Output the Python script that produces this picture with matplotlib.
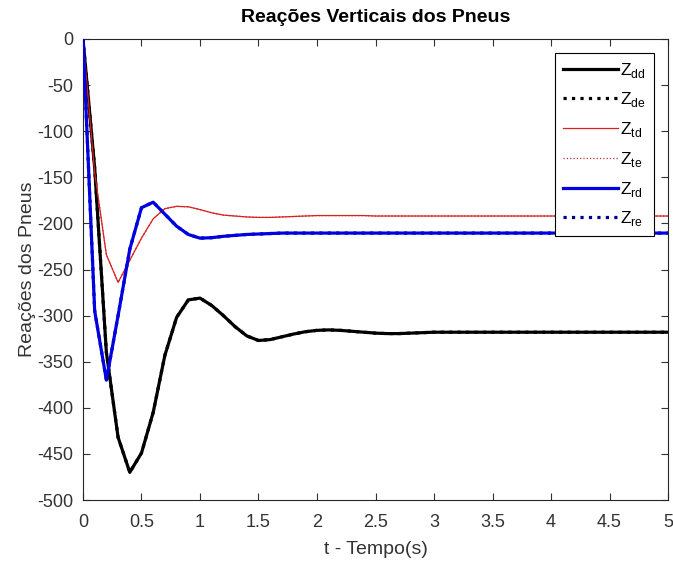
import matplotlib
matplotlib.use("Agg")
import matplotlib.pyplot as plt

plt.rcParams['font.family'] = ['Liberation Sans', 'DejaVu Sans']
plt.rcParams['axes.unicode_minus'] = False

# simulation time (s)
t = [0.0, 0.1, 0.2, 0.3, 0.4, 0.5, 0.6, 0.7, 0.8, 0.9,
     1.0, 1.1, 1.2, 1.3, 1.4, 1.5, 1.6, 1.7, 1.8, 1.9,
     2.0, 2.1, 2.2, 2.3, 2.4, 2.5, 2.6, 2.7, 2.8, 2.9,
     3.0, 3.1, 3.2, 3.3, 3.4, 3.5, 3.6, 3.7, 3.8, 3.9,
     4.0, 4.1, 4.2, 4.3, 4.4, 4.5, 4.6, 4.7, 4.8, 4.9, 5.0]

# front tyres (dianteiro direito / esquerdo)
z_dd = [0, -140, -340, -432, -470, -449, -405, -343, -302, -283,
        -281, -289, -300, -312, -322, -327, -326, -323, -320, -317.5,
        -316, -315.5, -316, -317, -318, -319, -319.5, -319.5, -319, -318.5,
        -318, -318, -318, -318, -318, -318, -318, -318, -318, -318,
        -318, -318, -318, -318, -318, -318, -318, -318, -318, -318, -318]
z_de = list(z_dd)

# rear tyres (traseiro direito / esquerdo)
z_td = [0, -145, -234, -264, -240, -216, -195, -184, -181.5, -182,
        -185, -188.5, -191, -192, -193, -193.5, -193.5, -193, -192.5, -192,
        -191.5, -191.5, -191.5, -191.5, -191.5, -192, -192, -192, -192, -192,
        -192, -192, -192, -192, -192, -192, -192, -192, -192, -192,
        -192, -192, -192, -192, -192, -192, -192, -192, -192, -192, -192]
z_te = list(z_td)

# trailer tyres (reboque direito / esquerdo)
z_rd = [0, -295, -370, -300, -228, -183, -177, -190, -203, -212,
        -216, -215.5, -214, -213, -212, -211.5, -211, -210.5, -210.5, -210.5,
        -210.5, -210.5, -210.5, -210.5, -210.5, -210.5, -210.5, -210.5, -210.5, -210.5,
        -210.5, -210.5, -210.5, -210.5, -210.5, -210.5, -210.5, -210.5, -210.5, -210.5,
        -210.5, -210.5, -210.5, -210.5, -210.5, -210.5, -210.5, -210.5, -210.5, -210.5, -210.5]
z_re = list(z_rd)

labels = ['Z$_\\mathregular{dd}$', 'Z$_\\mathregular{de}$', 'Z$_\\mathregular{td}$',
          'Z$_\\mathregular{te}$', 'Z$_\\mathregular{rd}$', 'Z$_\\mathregular{re}$']

fig = plt.figure(figsize=(6.73, 5.61), dpi=100)
ax = fig.add_axes([0.1233, 0.1087, 0.8693, 0.8218])

# left-side curves coincide with the right-side ones; keep the dotted ones underneath
ax.plot(t, z_dd, color='black', lw=2.3, ls='-', label=labels[0], zorder=3)
ax.plot(t, z_de, color='black', lw=2.3, ls=':', label=labels[1], zorder=2)
ax.plot(t, z_td, color='#dc2020', lw=0.9, ls='-', label=labels[2], zorder=3)
ax.plot(t, z_te, color='#b03030', lw=0.9, ls=':', label=labels[3], zorder=2)
ax.plot(t, z_rd, color='#0000e0', lw=2.3, ls='-', label=labels[4], zorder=3)
ax.plot(t, z_re, color='#00008b', lw=2.3, ls=':', label=labels[5], zorder=2)

ax.set_xlim(0, 5)
ax.set_ylim(-500, 0)
ax.set_xticks([0, 0.5, 1, 1.5, 2, 2.5, 3, 3.5, 4, 4.5, 5])
ax.set_xticklabels(['0', '0.5', '1', '1.5', '2', '2.5', '3', '3.5', '4', '4.5', '5'])
ax.set_yticks(range(-500, 1, 50))

tick_col = '#333333'
ax.tick_params(direction='in', top=True, right=True, length=5, width=0.8,
               labelsize=13, colors=tick_col, labelcolor=tick_col)
ax.tick_params(axis='x', pad=10)
ax.tick_params(axis='y', pad=7)
for s in ax.spines.values():
    s.set_color('#262626')
    s.set_linewidth(0.8)

ax.set_title('Reações Verticais dos Pneus', fontsize=14, fontweight='bold',
             color='black', pad=12)
ax.set_xlabel('t - Tempo(s)', fontsize=14, color=tick_col, labelpad=7)
ax.set_ylabel('Reações dos Pneus', fontsize=14, color=tick_col, labelpad=1)

leg = ax.legend(loc='upper right', bbox_to_anchor=(0.976, 0.970), borderaxespad=0,
                fontsize=12.5, handlelength=3.15, handletextpad=0.15,
                labelspacing=0.62, borderpad=0.45, fancybox=False,
                framealpha=1, edgecolor='black')
leg.get_frame().set_linewidth(0.8)

fig.savefig('out.png', dpi=100, facecolor='white')
